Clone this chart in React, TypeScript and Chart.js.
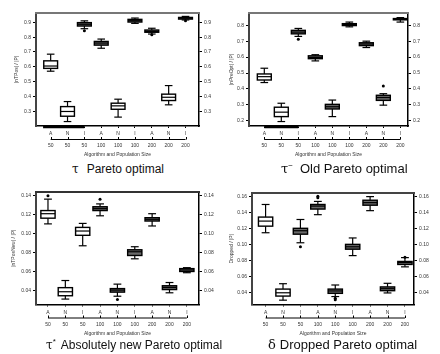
import React, { useEffect, useRef } from "react";
import { Chart, registerables } from "chart.js";
Chart.register(...registerables);

const algorithms = ["A", "N", "I", "A", "N", "I", "A", "N", "I"];
const populationSizes = ["50", "50", "50", "100", "100", "100", "200", "200", "200"];

// τ Pareto optimal
const paretoLow = [0.570, 0.230, 0.857, 0.725, 0.260, 0.893, 0.821, 0.343, 0.916];
const paretoQ1 = [0.589, 0.266, 0.875, 0.746, 0.313, 0.902, 0.833, 0.372, 0.922];
const paretoMed = [0.605, 0.298, 0.887, 0.760, 0.336, 0.911, 0.839, 0.394, 0.929];
const paretoQ3 = [0.640, 0.331, 0.898, 0.771, 0.354, 0.920, 0.848, 0.415, 0.933];
const paretoHigh = [0.685, 0.365, 0.910, 0.787, 0.381, 0.929, 0.860, 0.473, 0.940];
const paretoOutliers = [{ x: 3, y: 0.843 }, { x: 7, y: 0.816 }, { x: 9, y: 0.910 }];
const paretoTicks = [0.3, 0.4, 0.5, 0.6, 0.7, 0.8, 0.9];

// τ⁻ Old Pareto optimal
const oldLow = [0.440, 0.195, 0.730, 0.576, 0.226, 0.790, 0.660, 0.298, 0.820];
const oldQ1 = [0.456, 0.226, 0.746, 0.590, 0.274, 0.798, 0.672, 0.328, 0.834];
const oldMed = [0.477, 0.254, 0.757, 0.597, 0.288, 0.804, 0.682, 0.346, 0.838];
const oldQ3 = [0.494, 0.285, 0.768, 0.608, 0.303, 0.810, 0.690, 0.360, 0.842];
const oldHigh = [0.530, 0.310, 0.780, 0.615, 0.330, 0.820, 0.700, 0.370, 0.848];
const oldOutliers = [{ x: 3, y: 0.712 }, { x: 8, y: 0.418 }];
const oldTicks = [0.2, 0.3, 0.4, 0.5, 0.6, 0.7, 0.8];

// τ* Absolutely new Pareto optimal
const newLow = [0.1100, 0.0310, 0.0870, 0.1185, 0.0340, 0.0733, 0.1078, 0.0376, 0.0587];
const newQ1 = [0.1160, 0.0345, 0.0980, 0.1240, 0.0383, 0.0768, 0.1130, 0.0410, 0.0600];
const newMed = [0.1207, 0.0387, 0.1025, 0.1260, 0.0404, 0.0807, 0.1148, 0.0432, 0.0616];
const newQ3 = [0.1240, 0.0430, 0.1063, 0.1280, 0.0420, 0.0828, 0.1165, 0.0450, 0.0630];
const newHigh = [0.1360, 0.0505, 0.1105, 0.1310, 0.0467, 0.0860, 0.1207, 0.0484, 0.0640];
const newOutliers = [{ x: 1, y: 0.1395 }, { x: 4, y: 0.1360 }, { x: 5, y: 0.0306 }];
const newTicks = [0.04, 0.06, 0.08, 0.10, 0.12, 0.14];

// δ Dropped Pareto optimal
const droppedLow = [0.1145, 0.0305, 0.1020, 0.1370, 0.0350, 0.0860, 0.1420, 0.0395, 0.0720];
const droppedQ1 = [0.1227, 0.0356, 0.1127, 0.1440, 0.0390, 0.0940, 0.1488, 0.0423, 0.0750];
const droppedMed = [0.1290, 0.0397, 0.1170, 0.1477, 0.0420, 0.0970, 0.1520, 0.0448, 0.0774];
const droppedQ3 = [0.1340, 0.0443, 0.1200, 0.1497, 0.0443, 0.1000, 0.1550, 0.0470, 0.0787];
const droppedHigh = [0.1497, 0.0510, 0.1310, 0.1535, 0.0494, 0.1080, 0.1595, 0.0515, 0.0835];
const droppedOutliers = [
  { x: 3, y: 0.0970 }, { x: 4, y: 0.1580 }, { x: 4, y: 0.1600 },
  { x: 5, y: 0.0330 }, { x: 5, y: 0.0310 }, { x: 9, y: 0.0840 },
];
const droppedTicks = [0.04, 0.06, 0.08, 0.10, 0.12, 0.14, 0.16];

const FONT = '"Liberation Sans", Arial, sans-serif';
const BOX_W = 0.82;
const CANVAS_H = 162;

type PanelCfg = {
  left: number; top: number;
  low: number[]; q1: number[]; med: number[]; q3: number[]; high: number[];
  outliers: { x: number; y: number }[];
  ticks: number[]; decimals: number; yMin: number; yMax: number;
  xMin: number; xMax: number;
  yTitle: string; titlePad: number;
  padTop: number; leftW: number; rightW: number; padBottom: number;
  topColor: string; thick: number | null;
  caption: React.ReactNode; capX: number; capY: number; capSize: number;
};

const sym = (s: string) => <span style={{ fontFamily: "DejaVu Serif, serif" }}>{s}</span>;
const sup = (s: string) => <span style={{ fontSize: 8, position: "relative", top: -5 }}>{s}</span>;

const panels: PanelCfg[] = [
  {
    left: 0, top: 0, low: paretoLow, q1: paretoQ1, med: paretoMed, q3: paretoQ3, high: paretoHigh,
    outliers: paretoOutliers, ticks: paretoTicks, decimals: 1, yMin: 0.2, yMax: 0.963,
    xMin: 0.13, xMax: 9.8, yTitle: "|nTPos| / |P|", titlePad: 14,
    padTop: 13, leftW: 36, rightW: 21, padBottom: 3, topColor: "#777", thick: 0.55,
    caption: <span>{sym("τ")}<span style={{ marginLeft: 8 }}>Pareto optimal</span></span>, capX: 72, capY: 162, capSize: 12,
  },
  {
    left: 220, top: 0, low: oldLow, q1: oldQ1, med: oldMed, q3: oldQ3, high: oldHigh,
    outliers: oldOutliers, ticks: oldTicks, decimals: 1, yMin: 0.167, yMax: 0.877,
    xMin: 0.1, xMax: 9.45, yTitle: "|nPreOpt| / |P|", titlePad: 9,
    padTop: 13, leftW: 29, rightW: 32, padBottom: 3, topColor: "#777", thick: 1,
    caption: <span>{sym("τ")}{sup("−")}<span style={{ marginLeft: 7 }}>Old Pareto optimal</span></span>, capX: 61, capY: 162, capSize: 13,
  },
  {
    left: 0, top: 177, low: newLow, q1: newQ1, med: newMed, q3: newQ3, high: newHigh,
    outliers: newOutliers, ticks: newTicks, decimals: 2, yMin: 0.0253, yMax: 0.1435,
    xMin: 0.31, xMax: 9.7, yTitle: "|nTPosNew| / |P|", titlePad: 11,
    padTop: 15, leftW: 36, rightW: 21, padBottom: 1.5, topColor: "#333", thick: null,
    caption: <span>{sym("τ")}{sup("*")}<span style={{ marginLeft: 5 }}>Absolutely new Pareto optimal</span></span>, capX: 46, capY: 161, capSize: 12,
  },
  {
    left: 220, top: 177, low: droppedLow, q1: droppedQ1, med: droppedMed, q3: droppedQ3, high: droppedHigh,
    outliers: droppedOutliers, ticks: droppedTicks, decimals: 2, yMin: 0.0251, yMax: 0.164,
    xMin: 0.22, xMax: 9.52, yTitle: "Dropped / |P|", titlePad: 9,
    padTop: 16, leftW: 32, rightW: 26, padBottom: 1.5, topColor: "#444", thick: null,
    caption: <span>{sym("δ")}<span style={{ marginLeft: 4 }}>Dropped Pareto optimal</span></span>, capX: 48, capY: 161, capSize: 13,
  },
];

function makePlugin(p: PanelCfg) {
  return {
    id: "boxes",
    afterDatasetsDraw(chart: any) {
      const { ctx, chartArea } = chart;
      const xs = chart.scales.x;
      const ys = chart.scales.y;
      const x2 = chart.scales.x2;
      const line = (a: number, b: number, c: number, d: number) => {
        ctx.beginPath(); ctx.moveTo(a, b); ctx.lineTo(c, d); ctx.stroke();
      };
      ctx.save();
      ctx.strokeStyle = p.topColor;
      ctx.lineWidth = 2;
      line(chartArea.left - 1, chartArea.top, chartArea.right + 1, chartArea.top);
      for (let i = 0; i < p.med.length; i++) {
        const cx = xs.getPixelForValue(i + 1);
        const hw = xs.getPixelForValue(i + 1 + BOX_W / 2) - cx;
        const cw = hw * 0.55;
        const yl = ys.getPixelForValue(p.low[i]);
        const y1 = ys.getPixelForValue(p.q1[i]);
        const ym = ys.getPixelForValue(p.med[i]);
        const y3 = ys.getPixelForValue(p.q3[i]);
        const yh = ys.getPixelForValue(p.high[i]);
        ctx.strokeStyle = "#000";
        ctx.lineWidth = 1.2;
        line(cx, yh, cx, y3);
        line(cx, y1, cx, yl);
        line(cx - cw, yh, cx + cw, yh);
        line(cx - cw, yl, cx + cw, yl);
        ctx.fillStyle = y1 - y3 < 6 ? "#6a6a6a" : "#fff";
        ctx.fillRect(cx - hw, y3, 2 * hw, y1 - y3);
        ctx.lineWidth = 1.4;
        ctx.strokeRect(cx - hw, y3, 2 * hw, y1 - y3);
        ctx.lineWidth = 1.2;
        line(cx - hw, ym, cx + hw, ym);
      }
      if (p.thick !== null) {
        ctx.strokeStyle = "#000";
        ctx.lineWidth = 2.5;
        line(xs.getPixelForValue(p.thick), chartArea.bottom + 1, xs.getPixelForValue(3), chartArea.bottom + 1);
      }
      // second x-axis baseline
      const by = x2.top + 2.5;
      ctx.strokeStyle = "#000";
      ctx.lineWidth = 1;
      line(x2.getPixelForValue(1), by, x2.getPixelForValue(9), by);
      for (let i = 1; i <= 9; i++) {
        const tx = Math.round(x2.getPixelForValue(i)) + 0.5;
        line(tx, by, tx, by - 2.5);
      }
      ctx.restore();
    },
  };
}

function Panel({ cfg }: { cfg: PanelCfg }) {
  const ref = useRef<HTMLCanvasElement>(null);
  useEffect(() => {
    const tickFont = { family: FONT, size: 5 };
    const yTicks = (s: any) => { s.ticks = cfg.ticks.map((v) => ({ value: v })); };
    const xTicks = (s: any) => { s.ticks = algorithms.map((_, i) => ({ value: i + 1 })); };
    const chart = new Chart(ref.current as HTMLCanvasElement, {
      type: "scatter",
      data: {
        datasets: [
          {
            data: cfg.outliers,
            pointRadius: 1.5,
            pointBackgroundColor: "#000",
            pointBorderColor: "#000",
            pointBorderWidth: 0,
          },
        ],
      },
      options: {
        animation: false,
        responsive: false,
        devicePixelRatio: 1,
        layout: { padding: { top: cfg.padTop, left: 0, right: 0, bottom: cfg.padBottom } },
        plugins: { legend: { display: false }, tooltip: { enabled: false } },
        events: [],
        scales: {
          x: {
            type: "linear", position: "bottom", min: cfg.xMin, max: cfg.xMax, weight: 0,
            afterBuildTicks: xTicks,
            afterFit: (s: any) => { s.height = 11; },
            ticks: { font: tickFont, color: "#333", padding: 3, maxRotation: 0, autoSkip: false,
              callback: (v: any) => algorithms[Math.round(v) - 1] ?? "" },
            grid: { display: true, drawOnChartArea: false, drawTicks: true, tickLength: 2, color: "#000", lineWidth: 1 },
            border: { display: true, color: "#000", width: 1.5 },
          },
          x2: {
            type: "linear", position: "bottom", min: cfg.xMin, max: cfg.xMax, weight: 1,
            afterBuildTicks: xTicks,
            afterFit: (s: any) => { s.height = 22; },
            ticks: { font: tickFont, color: "#333", padding: 6, maxRotation: 0, autoSkip: false,
              callback: (v: any) => populationSizes[Math.round(v) - 1] ?? "" },
            grid: { display: false, drawTicks: false },
            border: { display: false },
            title: { display: true, text: "Algorithm and Population Size", font: { family: FONT, size: 5 }, color: "#333", padding: { top: 0, bottom: 1 } },
          },
          y: {
            type: "linear", position: "left", min: cfg.yMin, max: cfg.yMax,
            afterBuildTicks: yTicks,
            afterFit: (s: any) => { s.width = cfg.leftW; },
            ticks: { font: tickFont, color: "#333", padding: 2, callback: (v: any) => Number(v).toFixed(cfg.decimals) },
            grid: { display: true, drawOnChartArea: false, drawTicks: true, tickLength: 3, color: "#000", lineWidth: 1 },
            border: { display: true, color: "#444", width: 2 },
            title: { display: true, text: cfg.yTitle, font: { family: FONT, size: 5 }, color: "#333", padding: { top: cfg.titlePad, bottom: 0 } },
          },
          y2: {
            type: "linear", position: "right", min: cfg.yMin, max: cfg.yMax,
            afterBuildTicks: yTicks,
            afterFit: (s: any) => { s.width = cfg.rightW; },
            ticks: { font: tickFont, color: "#333", padding: 2, callback: (v: any) => Number(v).toFixed(cfg.decimals) },
            grid: { display: true, drawOnChartArea: false, drawTicks: true, tickLength: 3, color: "#000", lineWidth: 1 },
            border: { display: true, color: "#000", width: 1.5 },
          },
        },
      } as any,
      plugins: [makePlugin(cfg)],
    });
    return () => chart.destroy();
  }, []);
  return (
    <div style={{ position: "absolute", left: cfg.left, top: cfg.top, width: 220, height: 177 }}>
      <canvas ref={ref} width={220} height={CANVAS_H} style={{ position: "absolute", left: 0, top: 0, width: 220, height: CANVAS_H }} />
      <div style={{ position: "absolute", left: cfg.capX, top: cfg.capY, fontFamily: FONT, fontSize: cfg.capSize, color: "#111", whiteSpace: "pre", lineHeight: "14px" }}>
        {cfg.caption}
      </div>
    </div>
  );
}

export default function App() {
  return (
    <div style={{ position: "fixed", left: 0, top: 0, width: 440, height: 354, background: "#fff", overflow: "hidden" }}>
      {panels.map((p, i) => <Panel key={i} cfg={p} />)}
    </div>
  );
}
